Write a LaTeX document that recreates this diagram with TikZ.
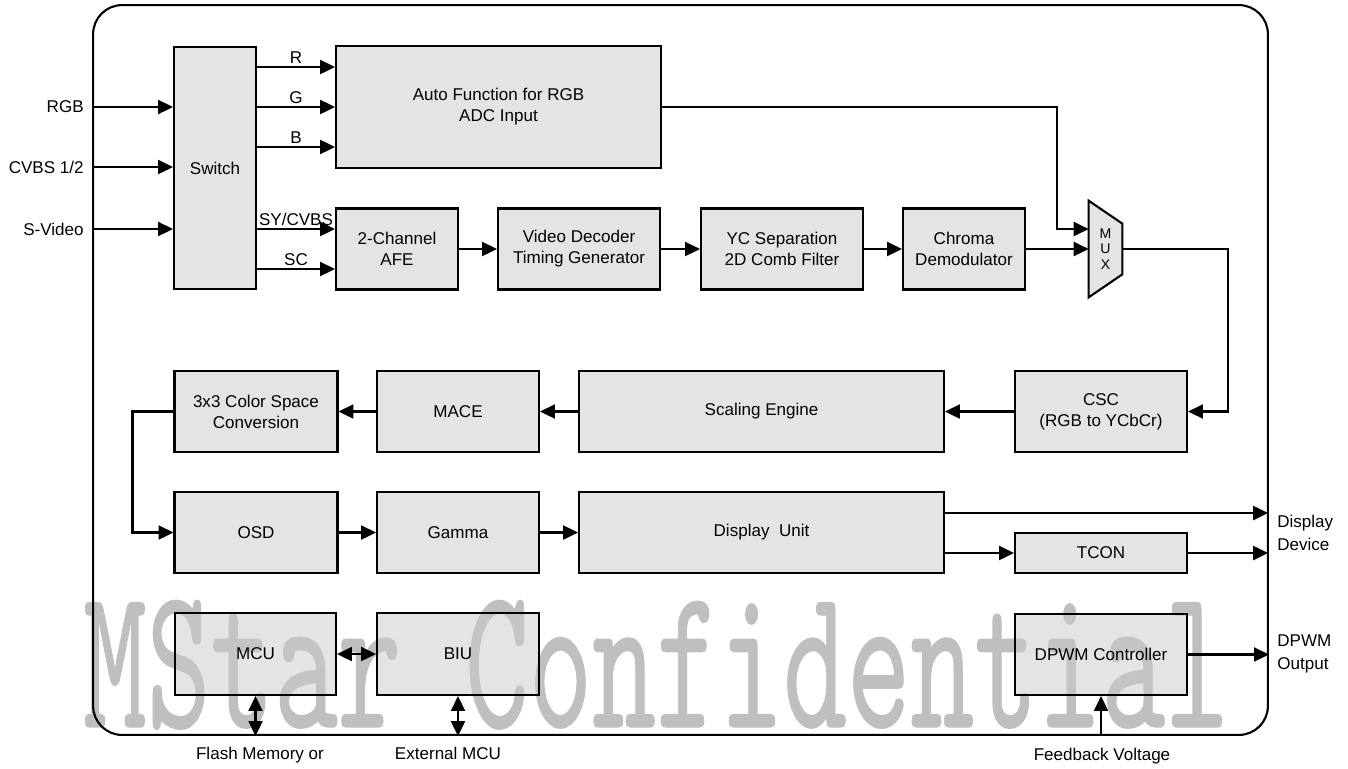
\documentclass[tikz,border=0pt]{standalone}
\usepackage{fontspec}
\setmainfont{Liberation Sans}
\newfontfamily\wmfont[FakeBold=0.7]{lmmono10-regular.otf}
\usetikzlibrary{arrows.meta,positioning}
\newcommand{\blocktxt}{\fontsize{9.7}{12}\selectfont}
\newcommand{\sidetxt}{\fontsize{9.7}{13.5}\selectfont}

\begin{document}
\begin{tikzpicture}[x=0.02cm,y=-0.02cm,
      block_node/.style={
         rectangle,
         draw=black,
         fill=black!21,
         fill opacity=0.5,
         text opacity=1,
         line width=1.2pt,
         inner sep=0pt,
         align=center,
         font=\blocktxt},
      side_label/.style={
         inner sep=0pt,
         align=left,
         font=\sidetxt},
      mux_shape/.style={
         draw=black,
         fill=black!21,
         fill opacity=0.5,
         line width=1.2pt},
      arrow_black/.style={
         -{Triangle[length=8.5pt,width=8pt]},
         line width=1.2pt},
      arrow_both/.style={
         {Triangle[length=8.5pt,width=8pt]}-{Triangle[length=8.5pt,width=8pt]},
         line width=1.2pt}
]
      \useasboundingbox (0,0) rectangle (1348,768);

      %watermark
      \node[anchor=base,text=black!25,inner sep=0pt,font=\wmfont\fontsize{69}{69}\selectfont] (wmark) at (656,727) {\scalebox{1}[1.68]{MStar Confidential}};

      %chip outline
      \node[draw=black,line width=1.2pt,rounded corners=0.58cm,minimum width=23.5cm,minimum height=14.6cm,inner sep=0pt] (chip) at (680.5,370) {};

      %input stage
      \node[block_node,minimum width=1.64cm,minimum height=4.84cm] (sw) at (215,168) {Switch};
      \node[block_node,minimum width=6.5cm,minimum height=2.44cm] (auto) at (498.5,107) {Auto Function for RGB\\ADC Input};

      \node[block_node,minimum width=2.44cm,minimum height=1.62cm] (afe) at (397,249) {2-Channel\\AFE};
      \node[block_node,minimum width=3.24cm,minimum height=1.62cm] (vdec) at (579,249) {Video Decoder\\Timing Generator};
      \node[block_node,minimum width=3.24cm,minimum height=1.62cm] (ycsep) at (782,249) {YC Separation\\2D Comb Filter};
      \node[block_node,minimum width=2.44cm,minimum height=1.62cm] (chroma) at (964,249) {Chroma\\Demodulator};

      %mux
      \node[inner sep=0pt,minimum width=0.66cm,minimum height=1.92cm] (mux) at (1105.5,249) {};
      \draw[mux_shape] (mux.north west) -- ([yshift=-0.46cm]mux.north east) -- ([yshift=0.46cm]mux.south east) -- (mux.south west) -- cycle;
      \node[inner sep=0pt,align=center,font=\fontsize{8}{9}\selectfont] (mux_lbl) at (mux.center) {M\\U\\X};

      %processing
      \node[block_node,minimum width=3.26cm,minimum height=1.62cm] (cc33) at (256,411.5) {3x3 Color Space\\Conversion};
      \node[block_node,minimum width=3.24cm,minimum height=1.62cm] (mace) at (458,411.5) {MACE};
      \node[block_node,minimum width=7.3cm,minimum height=1.62cm] (scal) at (761.5,411.5) {Scaling Engine};
      \node[block_node,minimum width=3.44cm,minimum height=1.62cm] (csc) at (1101,411.5) {CSC\\(RGB to YCbCr)};

      %output
      \node[block_node,minimum width=3.26cm,minimum height=1.62cm] (osd) at (256,532.5) {OSD};
      \node[block_node,minimum width=3.24cm,minimum height=1.62cm] (gamma) at (458,532.5) {Gamma};
      \node[block_node,minimum width=7.3cm,minimum height=1.62cm] (disp) at (761.5,532.5) {Display\ \ Unit};
      \node[block_node,minimum width=3.44cm,minimum height=0.8cm] (tcon) at (1101,553) {TCON};

      %control
      \node[block_node,minimum width=3.22cm,minimum height=1.64cm] (mcu) at (255.5,654) {MCU};
      \node[block_node,minimum width=3.24cm,minimum height=1.64cm] (biu) at (458,654) {BIU};
      \node[block_node,minimum width=3.44cm,minimum height=1.62cm] (dpwm) at (1101,654.5) {DPWM Controller};

      %pins
      \coordinate (rgb_pt) at (93,107);
      \coordinate (cvbs_pt) at (93,167);
      \coordinate (svid_pt) at (93,229);
      \coordinate (dev_top) at (1268,513);
      \coordinate (dev_bot) at (1268,553);
      \coordinate (dpwm_pt) at (chip.east |- dpwm.east);
      \coordinate (flash_pt) at (mcu.south |- chip.south);
      \coordinate (ext_pt) at (biu.south |- chip.south);
      \coordinate (fb_pt) at (dpwm.south |- chip.south);

      \node[side_label,left=0.18cm of rgb_pt] (rgb_lbl) {RGB};
      \node[side_label,left=0.18cm of cvbs_pt] (cvbs_lbl) {CVBS 1/2};
      \node[side_label,left=0.18cm of svid_pt] (svid_lbl) {S-Video};
      \node[side_label,anchor=west] (dev_lbl) at (1277,533) {Display\\Device};
      \node[side_label,anchor=west] (dpwm_lbl) at (1277,654) {DPWM\\Output};
      \node[side_label,anchor=north] (flash_lbl) at (260,747) {Flash Memory or};
      \node[side_label,anchor=north] (ext_lbl) at (448,747) {External MCU};
      \node[side_label,anchor=north] (fb_lbl) at (1102,748) {Feedback Voltage};

      \coordinate (r_in) at ([yshift=0.8cm]auto.west);
      \coordinate (g_in) at (auto.west);
      \coordinate (b_in) at ([yshift=-0.8cm]auto.west);
      \coordinate (sy_in) at ([yshift=0.4cm]afe.west);
      \coordinate (sc_in) at ([yshift=-0.4cm]afe.west);

    \foreach \i in {rgb_pt,cvbs_pt,svid_pt}
    \draw [arrow_black] (\i) -- (sw.west |- \i);

    \foreach \j/\txt in {% end point/text
      r_in/R, g_in/G, b_in/B, sy_in/SY\slash CVBS, sc_in/SC}
    \draw [arrow_black] (sw.east |- \j) -- node[above,font=\blocktxt,inner sep=1.5pt] {\txt} (\j);

    \foreach \i/\j in {afe/vdec, vdec/ycsep, ycsep/chroma, chroma/mux, osd/gamma, gamma/disp}
    \draw [arrow_black] (\i.east) -- (\j.west);

    \foreach \i/\j in {csc/scal, scal/mace, mace/cc33}
    \draw [arrow_black] (\i.west) -- (\j.east);

      \draw[arrow_black] (auto.east) -- ++(395,0) |- ([yshift=0.4cm]mux.west);
      \draw[arrow_black] (mux.east) -- ++(106,0) |- (csc.east);
      \draw[arrow_black] (cc33.west) -- ++(-41,0) |- (osd.west);

      \draw[arrow_black] (disp.east |- dev_top) -- (dev_top);
      \draw[arrow_black] (disp.east |- tcon.west) -- (tcon.west);
      \draw[arrow_black] (tcon.east) -- (dev_bot);
      \draw[arrow_black] (dpwm.east) -- (dpwm_pt);
      \draw[arrow_black] (fb_pt) -- (dpwm.south);

      \draw[arrow_both] (mcu.east) -- (biu.west);
      \draw[arrow_both] (mcu.south) -- (flash_pt);
      \draw[arrow_both] (biu.south) -- (ext_pt);

\end{tikzpicture}
\end{document}
